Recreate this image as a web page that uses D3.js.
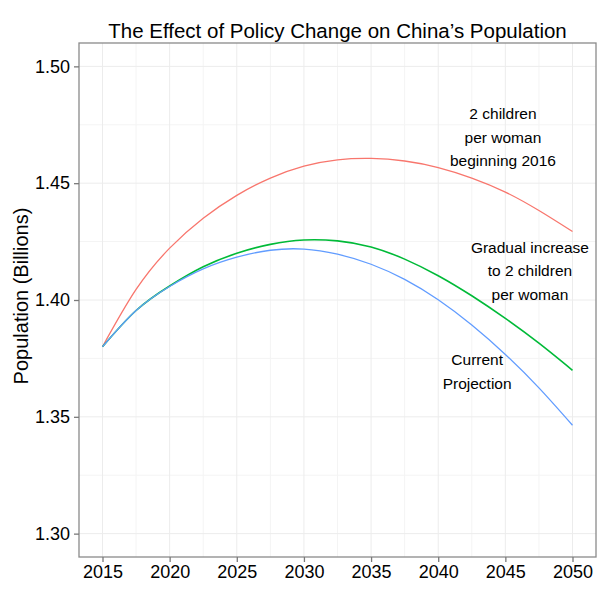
<!DOCTYPE html>
<html>
<head>
<meta charset="utf-8">
<script src="https://cdn.jsdelivr.net/npm/d3@7"></script>
<style>
  html, body { margin: 0; padding: 0; background: #fff; }
  text { font-family: "Liberation Sans", Arial, sans-serif; fill: #000; }
</style>
</head>
<body>
<svg id="chart" width="608" height="606"></svg>
<script>
// ---- data ----
const years = [2015, 2017.5, 2020, 2022.5, 2025, 2027.5, 2030, 2032.5, 2035, 2037.5, 2040, 2042.5, 2045, 2047.5, 2050];
const twoChildren = [1.3800, 1.4045, 1.4222, 1.4350, 1.4448, 1.4522, 1.4573, 1.4600, 1.4606, 1.4595, 1.4567, 1.4522, 1.4462, 1.4383, 1.4293];
const gradual     = [1.3800, 1.3955, 1.4060, 1.4142, 1.4200, 1.4238, 1.4257, 1.4253, 1.4227, 1.4175, 1.4104, 1.4018, 1.3921, 1.3815, 1.3699];
const current     = [1.3800, 1.3955, 1.4058, 1.4133, 1.4183, 1.4213, 1.4218, 1.4196, 1.4153, 1.4088, 1.4001, 1.3893, 1.3767, 1.3624, 1.3464];
const xTicks = [2015, 2020, 2025, 2030, 2035, 2040, 2045, 2050];
const yTicks = [1.30, 1.35, 1.40, 1.45, 1.50];
const seriesNames = ["2 children per woman beginning 2016", "Gradual increase to 2 children per woman", "Current Projection"];
const labelLines = [
  ["2 children", "per woman", "beginning 2016"],
  ["Gradual increase", "to 2 children", "per woman"],
  ["Current", "Projection"]
];
const labelAnchors = [[2044.82, 1.4696], [2046.83, 1.4126], [2042.9, 1.3693]];
const colors = ["#F8766D", "#00BA38", "#619CFF"];
const title = "The Effect of Policy Change on China’s Population";
const yTitle = "Population (Billions)";

// ---- layout ----
const svg = d3.select("#chart");
const pL = 79, pR = 596, pT = 43, pB = 557;
const x = d3.scaleLinear().domain([2013.25, 2051.75]).range([pL, pR]);
const y = d3.scaleLinear().domain([1.29, 1.51]).range([pB, pT]);

svg.append("rect").attr("x", pL).attr("y", pT).attr("width", pR - pL).attr("height", pB - pT).attr("fill", "#fff");

// gridlines
const xMinor = xTicks.slice(0, -1).map(d => d + 2.5);
const yMinor = yTicks.slice(0, -1).map(d => d + 0.025);
const grid = svg.append("g");
grid.selectAll(".vminor").data(xMinor).join("line")
  .attr("x1", d => x(d)).attr("x2", d => x(d)).attr("y1", pT).attr("y2", pB)
  .attr("stroke", "#f4f4f4").attr("stroke-width", 1);
grid.selectAll(".hminor").data(yMinor).join("line")
  .attr("y1", d => y(d)).attr("y2", d => y(d)).attr("x1", pL).attr("x2", pR)
  .attr("stroke", "#f4f4f4").attr("stroke-width", 1);
grid.selectAll(".vmajor").data(xTicks).join("line")
  .attr("x1", d => x(d)).attr("x2", d => x(d)).attr("y1", pT).attr("y2", pB)
  .attr("stroke", "#ececec").attr("stroke-width", 1);
grid.selectAll(".hmajor").data(yTicks).join("line")
  .attr("y1", d => y(d)).attr("y2", d => y(d)).attr("x1", pL).attr("x2", pR)
  .attr("stroke", "#ececec").attr("stroke-width", 1);

// lines
const series = [twoChildren, gradual, current];
const line = d3.line().x(d => x(d[0])).y(d => y(d[1])).curve(d3.curveNatural);
series.forEach((vals, i) => {
  svg.append("path")
    .datum(years.map((yr, j) => [yr, vals[j]]))
    .attr("fill", "none")
    .attr("stroke", colors[i])
    .attr("stroke-width", i === 1 ? 1.6 : 1.3)
    .attr("d", line)
    .append("title").text(seriesNames[i]);
});

// panel border
svg.append("rect").attr("x", pL).attr("y", pT).attr("width", pR - pL).attr("height", pB - pT)
  .attr("fill", "none").attr("stroke", "#8a8a8a").attr("stroke-width", 1.3);

// axes
const xAxis = d3.axisBottom(x).tickValues(xTicks).tickFormat(d3.format("d")).tickSize(5).tickPadding(3);
const gx = svg.append("g").attr("transform", `translate(0,${pB})`).call(xAxis);
const yAxis = d3.axisLeft(y).tickValues(yTicks).tickFormat(d3.format(".2f")).tickSize(5).tickPadding(4);
const gy = svg.append("g").attr("transform", `translate(${pL},0)`).call(yAxis);
[gx, gy].forEach(g => {
  g.select(".domain").remove();
  g.selectAll(".tick line").attr("stroke", "#7a7a7a").attr("stroke-width", 1.3);
  g.selectAll(".tick text").attr("fill", "#000").style("font-size", "18px")
    .style("font-family", "'Liberation Sans', Arial, sans-serif");
});

// title
svg.append("text").attr("x", (pL + pR) / 2).attr("y", 38).attr("text-anchor", "middle")
  .style("font-size", "20.5px").text(title);
// y title
svg.append("text").attr("transform", `translate(28,${(pT + pB) / 2 - 4}) rotate(-90)`)
  .attr("text-anchor", "middle").style("font-size", "20px").text(yTitle);

// annotations
labelLines.forEach((lines, i) => {
  const t = svg.append("text").attr("text-anchor", "middle").style("font-size", "15.5px");
  const cx = x(labelAnchors[i][0]);
  const cy = y(labelAnchors[i][1]);
  const n = lines.length;
  lines.forEach((ln, k) => {
    t.append("tspan").attr("x", cx).attr("y", cy + (k - (n - 1) / 2) * 23.5 + 5.5).text(ln);
  });
});
</script>
</body>
</html>
